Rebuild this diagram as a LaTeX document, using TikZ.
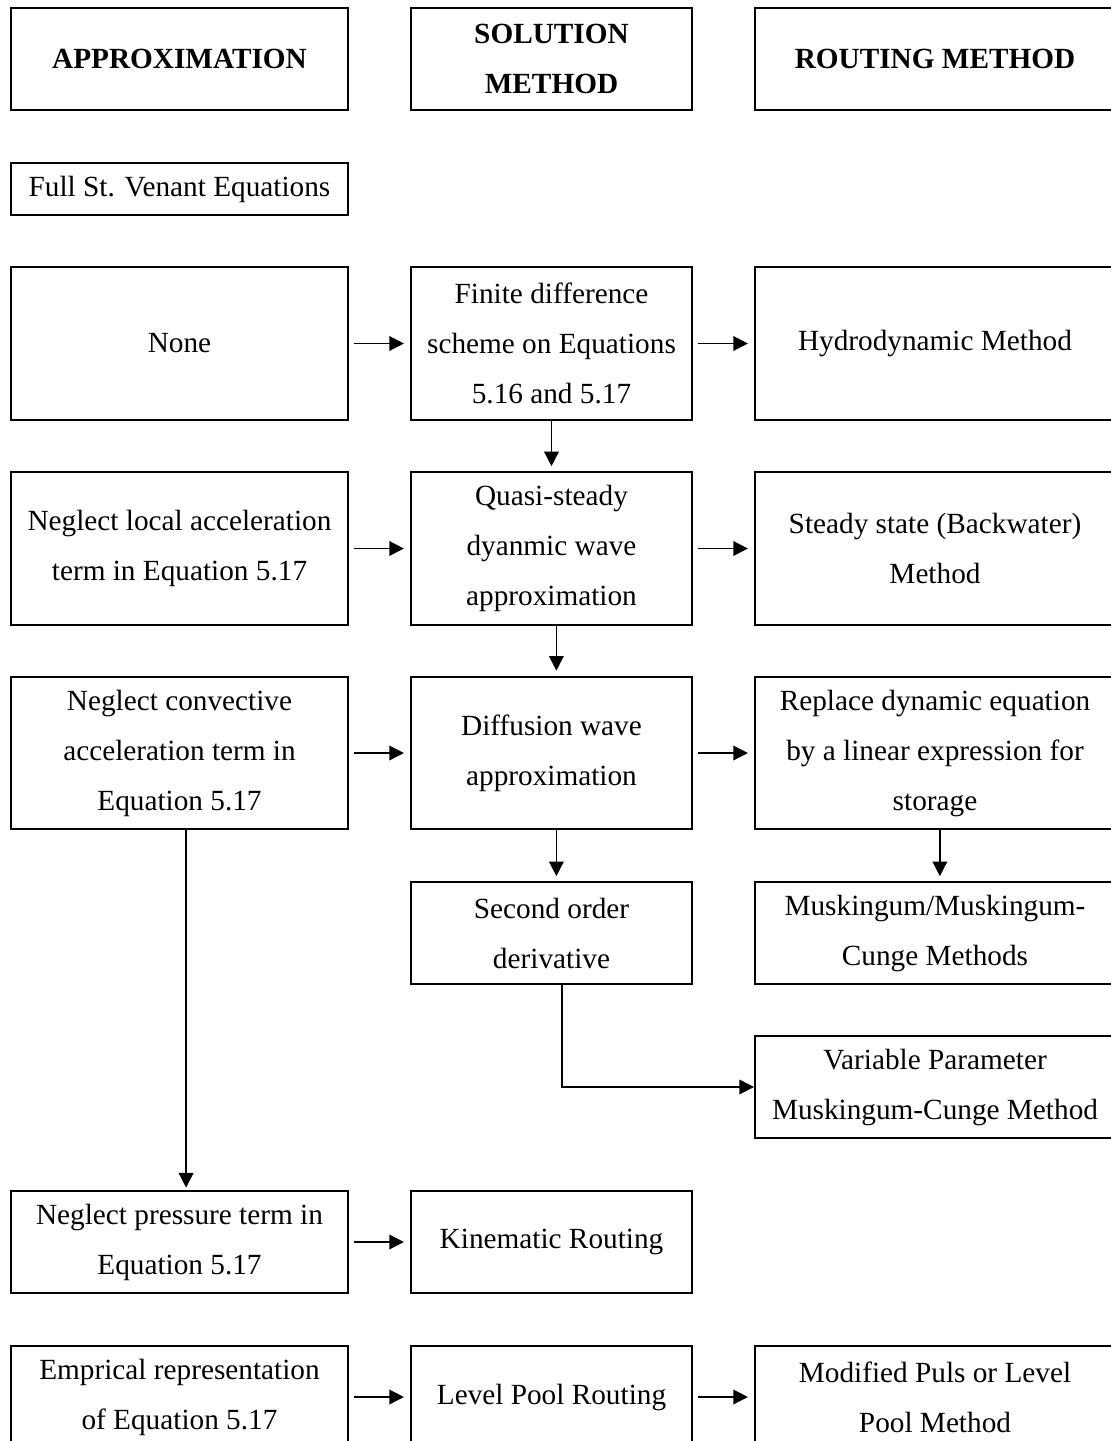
\documentclass[tikz,border=0pt]{standalone}
\usepackage{fontspec}
\setmainfont{Liberation Serif}
\usetikzlibrary{arrows.meta}
\tikzset{
  box/.style={
    draw,
    line width=0.8pt,
    align=center,
    inner sep=0pt,
    font=\fontsize{12}{20.5}\selectfont
  },
  colA/.style={box, minimum width=138.2pt},
  colB/.style={box, minimum width=115.2pt},
  colC/.style={box, minimum width=147.6pt},
  tall/.style={minimum height=62.7pt},
  mid/.style={minimum height=41.8pt},
  low/.style={minimum height=21.3pt},
  head/.style={font=\bfseries\fontsize{12}{20.5}\selectfont},
  arr/.style={-{Triangle[length=6pt,width=6pt]}, line width=0.6pt}
}

\begin{document}
\begin{tikzpicture}[x=0.41pt,y=-0.41pt]
  \useasboundingbox (0,0) rectangle (1111,1441);
  \clip (0,0) rectangle (1111,1441);
  % headings
  \node[colA,mid,head] (approx) at (179.5,59) {APPROXIMATION};
  \node[colB,mid,head] (solhead) at (551.5,59) {SOLUTION\\METHOD};
  \node[colC,mid,head] (routhead) at (935,59) {ROUTING METHOD};
  \node[colA,low] (fullsv) at (179.5,189) {Full St. Venant Equations};
  % rows
  \node[colA,tall] (none) at (179.5,343.5) {None};
  \node[colB,tall] (fdscheme) at (551.5,343.5) {Finite difference\\scheme on Equations\\5.16 and 5.17};
  \node[colC,tall] (hydro) at (935,343.5) {Hydrodynamic Method};
  \node[colA,tall] (nlocal) at (179.5,548.5) {Neglect local acceleration\\term in Equation 5.17};
  \node[colB,tall] (quasi) at (551.5,548.5) {Quasi-steady\\dyanmic wave\\approximation};
  \node[colC,tall] (steady) at (935,548.5) {Steady state (Backwater)\\Method};
  \node[colA,tall] (nconv) at (179.5,753) {Neglect convective\\acceleration term in\\Equation 5.17};
  \node[colB,tall] (diffwave) at (551.5,753) {Diffusion wave\\approximation};
  \node[colC,tall] (replace) at (935,753) {Replace dynamic equation\\by a linear expression for\\storage};
  \node[colB,mid] (secorder) at (551.5,933) {Second order\\derivative};
  \node[colC,mid] (musk) at (935,933) {Muskingum/Muskingum-\\Cunge Methods};
  \node[colC,mid] (varparam) at (935,1087) {Variable Parameter\\Muskingum-Cunge Method};
  \node[colA,mid] (npress) at (179.5,1242) {Neglect pressure term in\\Equation 5.17};
  \node[colB,mid] (kinematic) at (551.5,1242) {Kinematic Routing};
  \node[colA,mid] (empirical) at (179.5,1397) {Emprical representation\\of Equation 5.17};
  \node[colB,mid] (levelpool) at (551.5,1397) {Level Pool Routing};
  \node[colC,mid] (modpuls) at (935,1397) {Modified Puls or Level\\Pool Method};
  % connectors
  \draw[arr,shorten <=2pt,shorten >=2.5pt] (none) -- (fdscheme);
  \draw[arr,shorten <=2pt,shorten >=2.5pt] (fdscheme) -- (hydro);
  \draw[arr,shorten <=2pt,shorten >=2.5pt] (nlocal) -- (quasi);
  \draw[arr,shorten <=2pt,shorten >=2.5pt] (quasi) -- (steady);
  \draw[arr,shorten <=2pt,shorten >=2.5pt] (nconv) -- (diffwave);
  \draw[arr,shorten <=2pt,shorten >=2.5pt] (diffwave) -- (replace);
  \draw[arr,shorten <=2pt,shorten >=2.5pt] (npress) -- (kinematic);
  \draw[arr,shorten <=2pt,shorten >=2.5pt] (empirical) -- (levelpool);
  \draw[arr,shorten <=2pt,shorten >=2.5pt] (levelpool) -- (modpuls);
  \draw[arr,shorten >=2pt] (fdscheme) -- (quasi);
  \draw[arr,shorten >=2pt] ([xshift=2pt]quasi.south) -- ([xshift=2pt]diffwave.north);
  \draw[arr,shorten >=2pt] ([xshift=2pt]diffwave.south) -- ([xshift=2pt]secorder.north);
  \draw[arr,shorten >=2pt] ([xshift=2pt]replace.south) -- ([xshift=2pt]musk.north);
  \draw[arr,shorten >=1pt] ([xshift=2.7pt]nconv.south) -- ([xshift=2.7pt]npress.north);
  \draw[arr] ([xshift=4.3pt]secorder.south) |- (varparam.west);
\end{tikzpicture}
\end{document}
